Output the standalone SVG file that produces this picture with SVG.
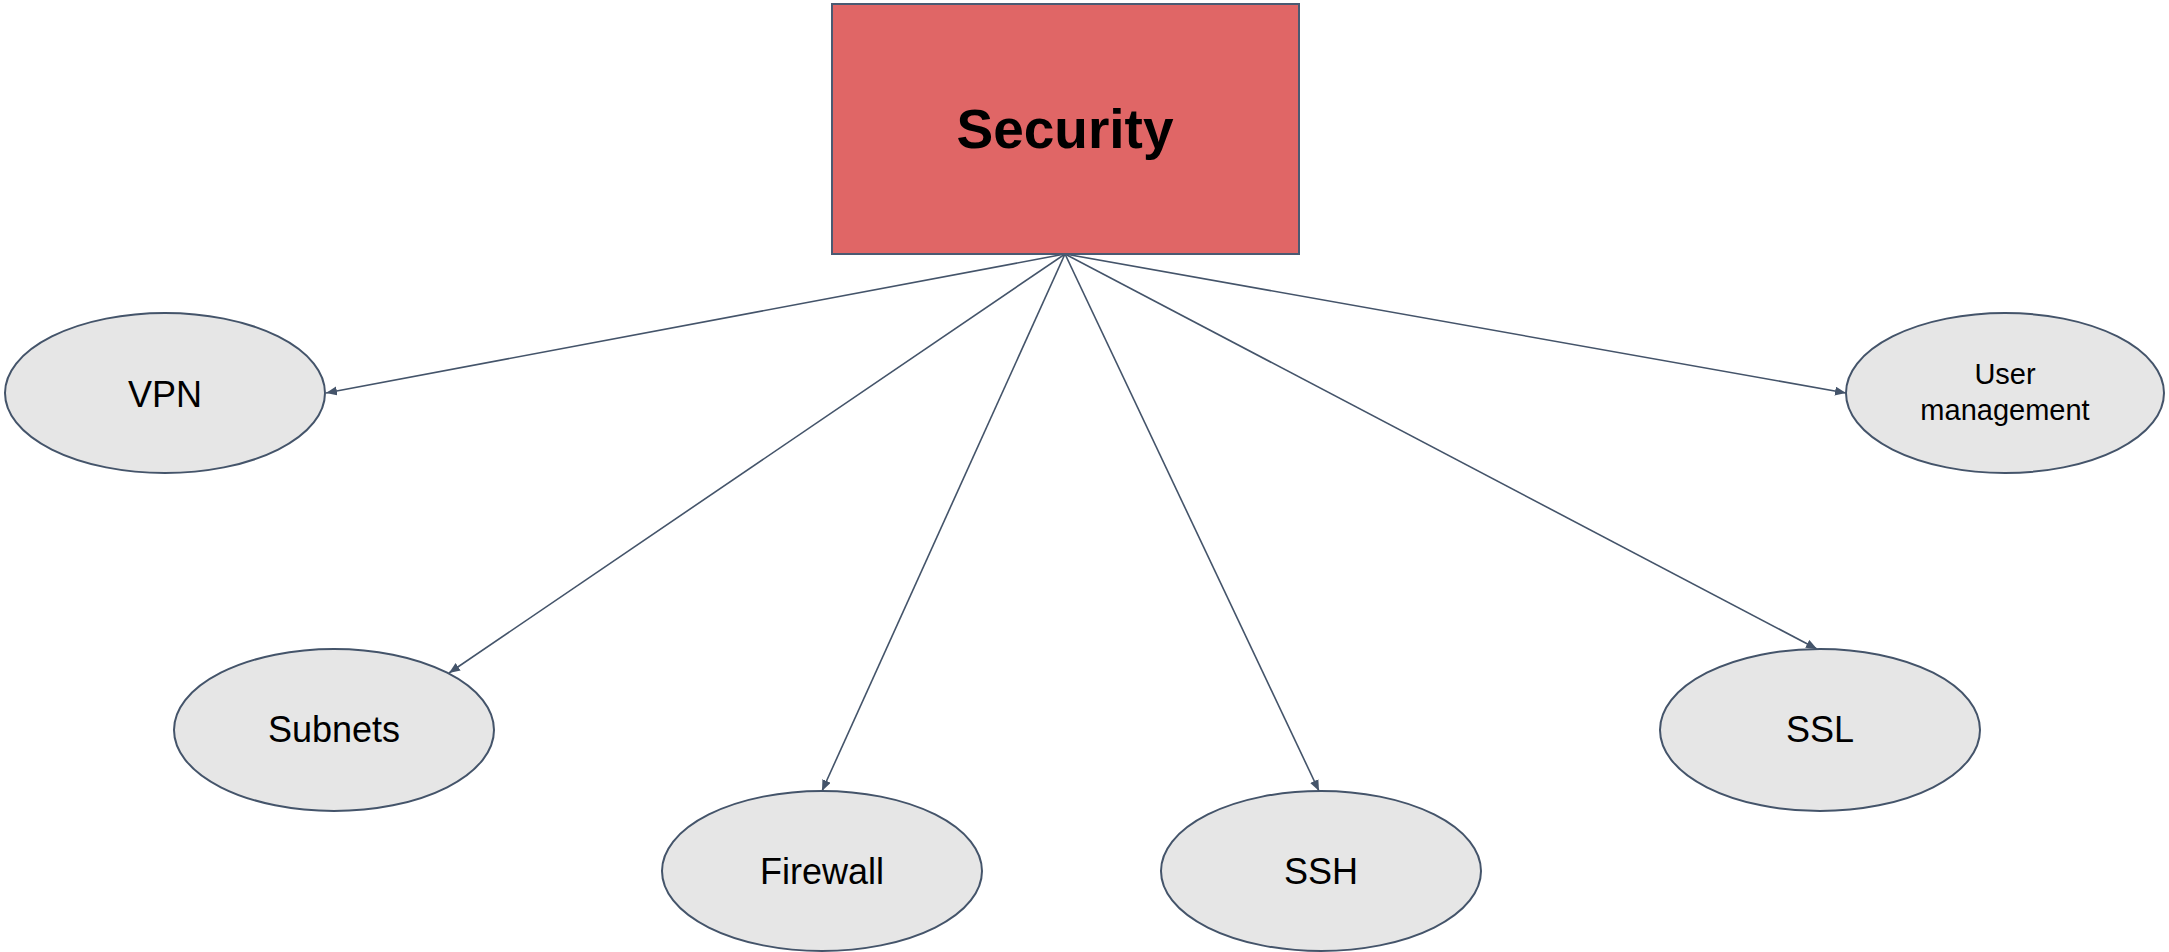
<svg xmlns="http://www.w3.org/2000/svg" width="2169" height="952" viewBox="0 0 2169 952">
  <style>
    .topic { fill: #e06666; stroke: #4a5a72; stroke-width: 2; }
    .topic-label { font-family: "Liberation Sans", Arial, sans-serif; font-size: 55px; font-weight: bold; fill: #000000; text-anchor: middle; }
    .item { fill: #e6e6e6; stroke: #44546a; stroke-width: 2; }
    .item-label { font-family: "Liberation Sans", Arial, sans-serif; font-size: 36px; fill: #000000; text-anchor: middle; }
    .item-label.small { font-size: 29px; }
    .link { stroke: #44546a; stroke-width: 1.6; fill: none; marker-end: url(#arrow); }
  </style>
  <defs>
    <marker id="arrow" markerUnits="userSpaceOnUse" markerWidth="12" markerHeight="10" refX="11" refY="4.5" orient="auto">
      <path d="M0,0 L11,4.5 L0,9 Z" fill="#44546a"/>
    </marker>
  </defs>
  <rect width="2169" height="952" fill="#ffffff"/>

  <g id="connectors">
    <line class="link" x1="1065" y1="254" x2="326" y2="393"/>
    <line class="link" x1="1065" y1="254" x2="449" y2="673"/>
    <line class="link" x1="1065" y1="254" x2="822" y2="791"/>
    <line class="link" x1="1065" y1="254" x2="1319" y2="791"/>
    <line class="link" x1="1065" y1="254" x2="1817" y2="649"/>
    <line class="link" x1="1065" y1="254" x2="1846" y2="393"/>
  </g>

  <g id="security">
    <rect class="topic" x="832" y="4" width="467" height="250"/>
    <text class="topic-label" x="1065" y="148">Security</text>
  </g>

  <g id="vpn">
    <ellipse class="item" cx="165" cy="393" rx="160" ry="80"/>
    <text class="item-label" x="165" y="407">VPN</text>
  </g>

  <g id="user-management">
    <ellipse class="item" cx="2005" cy="393" rx="159" ry="80"/>
    <text class="item-label small" x="2005" y="384">User</text>
    <text class="item-label small" x="2005" y="420">management</text>
  </g>

  <g id="subnets">
    <ellipse class="item" cx="334" cy="730" rx="160" ry="81"/>
    <text class="item-label" x="334" y="742">Subnets</text>
  </g>

  <g id="firewall">
    <ellipse class="item" cx="822" cy="871" rx="160" ry="80"/>
    <text class="item-label" x="822" y="884">Firewall</text>
  </g>

  <g id="ssh">
    <ellipse class="item" cx="1321" cy="871" rx="160" ry="80"/>
    <text class="item-label" x="1321" y="884">SSH</text>
  </g>

  <g id="ssl">
    <ellipse class="item" cx="1820" cy="730" rx="160" ry="81"/>
    <text class="item-label" x="1820" y="742">SSL</text>
  </g>
</svg>
